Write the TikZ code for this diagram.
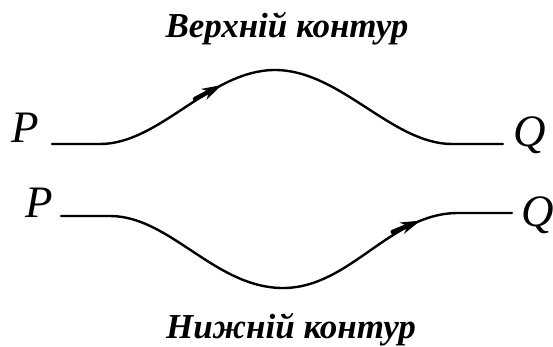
\documentclass[tikz,border=0pt]{standalone}
\usepackage{fontspec}
\setmainfont{Liberation Serif}
\usetikzlibrary{decorations.markings,arrows.meta}
\begin{document}
\begin{tikzpicture}[x=1pt,y=-1pt,
  lbl/.style={inner sep=0pt,anchor=base west,font=\fontsize{45}{45}\selectfont\itshape},
  ttl/.style={inner sep=0pt,anchor=base,font=\fontsize{35}{35}\selectfont\bfseries\itshape},
  contour/.style={line width=2.4pt,line cap=round},
  midarrow/.style={postaction={decorate},decoration={markings,
     mark=at position #1 with {\draw[line width=4.4pt] (-30pt,0) -- (-10pt,0);
       \arrow{Stealth[length=20pt,width=12pt,inset=6pt]}}}}]
\useasboundingbox (0,0) rectangle (553,346);
\node[ttl] (t1) at (287,37) {Верхній контур};
\node[ttl] (t2) at (291,338) {Нижній контур};
\node[lbl] (Pu) at (11,142) {P};
\node[lbl] (Qu) at (513,146) {Q};
\node[lbl] (Pl) at (25,217) {P};
\node[lbl] (Ql) at (521,226) {Q};
\coordinate (a1) at (52,144);
\coordinate (a2) at (503,144);
\coordinate (b1) at (61,216);
\coordinate (b2) at (512,213);
\draw[contour,midarrow=0.38] (a1) -- (100,144) .. controls (160,144) and (210,70) .. (275,70)
  .. controls (340,70) and (392,144) .. (452,144) -- (a2);
\draw[contour,midarrow=0.81] (b1) -- (110,216) .. controls (170,216) and (215,288) .. (283,288)
  .. controls (350,288) and (390,213) .. (458,213) -- (b2);
\end{tikzpicture}
\end{document}
